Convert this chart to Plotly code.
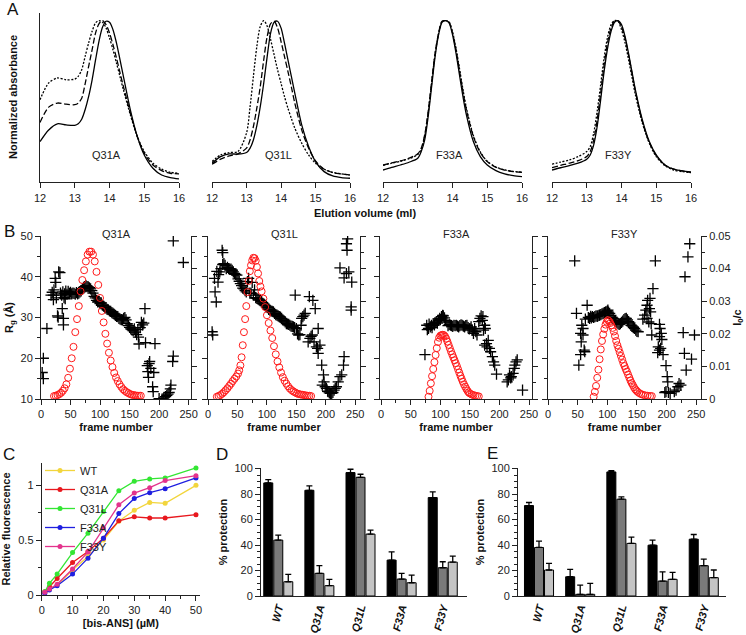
import plotly.graph_objects as go

W, H = 746, 635
FONT = "Liberation Sans, Arial, sans-serif"
INK = "#222222"

# ---------------- Panel A: SEC elution profiles ----------------
elution_ml = [12, 12.25, 12.5, 12.75, 13, 13.1, 13.2, 13.3, 13.4, 13.5, 13.6, 13.7, 13.8,
              13.9, 14, 14.1, 14.2, 14.3, 14.4, 14.6, 14.8, 15, 15.25, 15.5, 15.75, 16]
q31a_solid = [0.252, 0.324, 0.362, 0.355, 0.352, 0.362, 0.39, 0.45, 0.531, 0.634, 0.758, 0.875, 0.96,
              0.996, 0.99, 0.944, 0.862, 0.76, 0.655, 0.448, 0.283, 0.169, 0.087, 0.045, 0.029, 0.021]
q31a_dash = [0.37, 0.465, 0.49, 0.483, 0.48, 0.49, 0.52, 0.61, 0.717, 0.82, 0.924, 0.981, 1.0,
             0.975, 0.924, 0.851, 0.769, 0.68, 0.593, 0.428, 0.283, 0.18, 0.107, 0.072, 0.056, 0.052]
q31a_dot = [0.51, 0.614, 0.645, 0.634, 0.638, 0.655, 0.696, 0.78, 0.862, 0.934, 0.986, 1.0, 0.99,
            0.955, 0.893, 0.82, 0.738, 0.655, 0.572, 0.417, 0.283, 0.19, 0.118, 0.081, 0.062, 0.056]
q31l_solid = [0.118, 0.159, 0.176, 0.174, 0.184, 0.21, 0.262, 0.35, 0.469, 0.614, 0.779, 0.924, 0.99,
              0.996, 0.955, 0.862, 0.758, 0.655, 0.552, 0.355, 0.221, 0.128, 0.066, 0.039, 0.029, 0.025]
q31l_dash = [0.112, 0.143, 0.163, 0.176, 0.211, 0.26, 0.345, 0.46, 0.593, 0.758, 0.903, 0.981, 0.996,
             0.955, 0.872, 0.779, 0.686, 0.59, 0.49, 0.324, 0.211, 0.132, 0.081, 0.06, 0.052, 0.045]
q31l_dot = [0.128, 0.169, 0.184, 0.19, 0.304, 0.46, 0.655, 0.841, 0.965, 1.0, 0.965, 0.882, 0.789,
            0.696, 0.614, 0.531, 0.459, 0.395, 0.335, 0.242, 0.169, 0.118, 0.081, 0.062, 0.052, 0.045]
f33a_solid = [0.076, 0.092, 0.107, 0.124, 0.149, 0.19, 0.262, 0.407, 0.593, 0.779, 0.913, 0.99, 1.0,
              0.986, 0.913, 0.8, 0.665, 0.531, 0.417, 0.252, 0.159, 0.107, 0.072, 0.052, 0.041, 0.035]
f33a_dash = [0.107, 0.12, 0.132, 0.149, 0.176, 0.211, 0.293, 0.438, 0.624, 0.8, 0.924, 0.996, 1.0,
             0.99, 0.924, 0.82, 0.692, 0.562, 0.448, 0.283, 0.184, 0.128, 0.093, 0.076, 0.066, 0.062]
f33a_dot = [0.105, 0.118, 0.13, 0.146, 0.172, 0.205, 0.285, 0.43, 0.615, 0.795, 0.92, 0.993, 1.0,
            0.992, 0.93, 0.83, 0.705, 0.575, 0.46, 0.29, 0.188, 0.13, 0.094, 0.077, 0.067, 0.063]
f33y_solid = [0.076, 0.09, 0.103, 0.118, 0.143, 0.169, 0.231, 0.345, 0.51, 0.686, 0.83, 0.934, 0.99,
              1.0, 0.975, 0.903, 0.8, 0.686, 0.572, 0.386, 0.252, 0.169, 0.107, 0.081, 0.07, 0.062]
f33y_dash = [0.091, 0.105, 0.118, 0.134, 0.159, 0.19, 0.262, 0.386, 0.552, 0.727, 0.866, 0.955, 0.998,
             0.998, 0.961, 0.893, 0.789, 0.676, 0.562, 0.376, 0.246, 0.165, 0.107, 0.081, 0.07, 0.062]
f33y_dot = [0.112, 0.125, 0.138, 0.159, 0.19, 0.221, 0.304, 0.438, 0.603, 0.769, 0.899, 0.975, 1.0,
            0.996, 0.944, 0.866, 0.762, 0.651, 0.541, 0.366, 0.242, 0.159, 0.103, 0.076, 0.066, 0.06]

# ---------------- Panel B: SEC-SAXS frames ----------------
q31a_io_frames = [22, 25, 28, 31, 34, 37, 40, 43, 46, 49, 52, 55, 58, 61, 64, 67, 70, 73, 76, 79,
                  82, 85, 88, 91, 94, 97, 100, 103, 106, 109, 112, 115, 118, 121, 124, 127, 130, 133, 136, 139,
                  142, 145, 148, 151, 154, 157, 160, 163, 166, 169]
q31a_io = [0.0009, 0.0010, 0.0012, 0.0015, 0.0019, 0.0025, 0.0033, 0.0045, 0.0065, 0.0093,
           0.0125, 0.016, 0.0205, 0.0245, 0.0285, 0.033, 0.0365, 0.0395, 0.0422, 0.0443,
           0.0452, 0.0452, 0.0443, 0.0422, 0.039, 0.035, 0.031, 0.027, 0.0235, 0.02,
           0.017, 0.0142, 0.0118, 0.0098, 0.008, 0.0066, 0.0055, 0.0045, 0.0037, 0.003,
           0.0025, 0.0021, 0.0018, 0.0015, 0.0013, 0.0012, 0.0011, 0.001, 0.001, 0.001]
q31l_io_frames = [15, 18, 21, 24, 27, 30, 33, 36, 39, 42, 45, 48, 51, 53, 55, 57, 59, 61, 63, 65,
                  67, 69, 71, 73, 75, 77, 79, 81, 83, 85, 87, 89, 91, 94, 97, 100, 103, 106, 109, 112,
                  115, 118, 121, 124, 127, 130, 133, 136, 139, 142, 145, 148, 151, 154, 157, 160, 163, 166, 169, 172,
                  175]
q31l_io = [0.0007, 0.0009, 0.0012, 0.0016, 0.0021, 0.0027, 0.0033, 0.004, 0.0047, 0.0055,
           0.0062, 0.0069, 0.0078, 0.0088, 0.0103, 0.0128, 0.0165, 0.0205, 0.0245, 0.0285,
           0.0328, 0.0362, 0.0392, 0.041, 0.0425, 0.0433, 0.0432, 0.0424, 0.0405, 0.0385,
           0.0362, 0.0345, 0.033, 0.0308, 0.0282, 0.0257, 0.0233, 0.021, 0.0187, 0.0162,
           0.0137, 0.0115, 0.0097, 0.0081, 0.0067, 0.0056, 0.0047, 0.0039, 0.0032, 0.0027,
           0.0023, 0.002, 0.0017, 0.0015, 0.0014, 0.0013, 0.0012, 0.0011, 0.001, 0.001,
           0.0009]
f33a_io_frames = [80, 82, 84, 86, 88, 90, 92, 94, 96, 98, 100, 102, 104, 106, 108, 110, 112, 114, 116, 118,
                  120, 122, 124, 126, 128, 130, 132, 134, 136, 138, 140, 142, 144, 146, 148, 150, 153, 156, 159, 162,
                  165]
f33a_io = [0.0007, 0.0025, 0.0048, 0.007, 0.0092, 0.0113, 0.0135, 0.0156, 0.0175, 0.0188,
           0.0194, 0.0196, 0.0197, 0.0196, 0.0192, 0.0185, 0.0176, 0.0166, 0.0156, 0.0146,
           0.0137, 0.0128, 0.0119, 0.011, 0.0101, 0.0091, 0.0081, 0.0071, 0.0062, 0.0053,
           0.0045, 0.0038, 0.0031, 0.0025, 0.002, 0.0017, 0.0014, 0.0012, 0.001, 0.0009,
           0.0008]
f33y_io_frames = [77, 79, 81, 83, 85, 87, 89, 91, 93, 95, 97, 99, 101, 103, 105, 107, 109, 111, 113, 115,
                  117, 119, 121, 123, 125, 127, 129, 131, 133, 135, 137, 139, 141, 143, 145, 147, 149, 151, 154, 157,
                  160, 164, 168, 172, 175]
f33y_io = [0.0007, 0.0022, 0.004, 0.0065, 0.009, 0.0122, 0.0152, 0.0178, 0.0198, 0.0215,
           0.0228, 0.0237, 0.0242, 0.0239, 0.0233, 0.0226, 0.0218, 0.0207, 0.0193, 0.0178,
           0.0165, 0.0154, 0.0143, 0.0132, 0.0121, 0.011, 0.0101, 0.0092, 0.0084, 0.0075,
           0.0066, 0.0057, 0.0049, 0.0043, 0.0036, 0.003, 0.0026, 0.0022, 0.0018, 0.0015,
           0.0013, 0.0011, 0.001, 0.0009, 0.0009]

# radius per frame, (frame, Rg in Å)
q31a_rg = [(2, 16.5), (4, 15), (4, 20), (10, 27.3), (17, 35.5), (19, 36.2), (21, 34.4), (21, 35.5), (22, 36.8),
           (24, 39.6), (25, 38.6), (26, 34.8), (28, 30.4), (29, 30.1), (30, 41.2), (32, 41.0), (33, 36.0),
           (35, 35.5), (36, 32.2), (37, 36.3), (38, 29.8), (38, 28.2), (39, 34.9), (40, 35.8), (41, 34.6),
           (42, 36.5), (44, 35.7), (46, 36.4), (48, 35.9), (50, 36.2), (52, 35.8), (54, 36.0), (56, 35.9),
           (58, 35.7), (60, 36.1), (62, 35.8), (64, 36.0), (66, 36.3), (68, 36.5), (70, 37.0), (72, 37.4),
           (74, 37.6), (76, 37.8), (78, 37.6), (80, 37.5), (82, 37.3), (84, 37.0), (86, 36.6), (88, 36.0),
           (90, 35.2), (92, 34.8), (94, 34.2), (96, 33.8), (98, 33.9), (100, 33.4), (102, 33.6), (104, 33.0),
           (106, 32.8), (108, 32.5), (110, 32.3), (112, 32.0), (114, 31.9), (116, 31.6), (118, 31.5),
           (120, 31.2), (122, 31.0), (124, 30.8), (126, 30.5), (128, 30.3), (130, 30.2), (132, 29.8),
           (134, 29.6), (136, 29.5), (138, 29.4), (140, 29.8), (142, 30.0), (144, 29.4), (146, 28.5),
           (148, 28.0), (150, 27.6), (152, 27.2), (154, 27.0), (156, 26.8), (158, 27.2), (160, 26.4),
           (162, 25.8), (164, 27.0), (165, 25.2), (166, 23.5), (168, 27.5), (170, 28.8), (172, 28.2),
           (174, 28.6), (176, 32.2), (177, 23.8), (180, 18.2), (181, 16.7), (182, 15.3), (183, 18.7),
           (184, 19.2), (186, 17.5), (189, 13.0), (190, 11.8), (191, 16.5), (193, 23.6), (200, 10.1),
           (205, 10.0), (208, 10.3), (211, 10.6), (213, 10.9), (215, 11.2), (217, 11.6), (219, 12.5),
           (220, 13.4), (223, 19.2), (224, 20.5), (224, 48.8), (241, 43.5)]
q31l_rg = [(7, 26.5), (8, 25.7), (11, 39.6), (12, 36.3), (14, 33.8), (15, 41.3), (17, 38.7), (18, 40.5),
           (20, 41.2), (22, 42.0), (24, 46.5), (25, 45.9), (25, 43.0), (27, 43.2), (29, 42.8), (31, 42.0),
           (33, 42.3), (35, 42.0), (37, 41.8), (39, 41.9), (41, 41.6), (43, 41.2), (45, 40.8), (47, 40.6),
           (49, 40.4), (51, 39.5), (53, 38.9), (55, 38.3), (57, 37.8), (59, 37.2), (61, 37.0), (63, 36.6),
           (65, 36.3), (67, 38.8), (69, 39.6), (71, 36.0), (73, 35.9), (75, 38.6), (77, 35.5), (79, 36.8),
           (81, 34.9), (83, 34.7), (85, 34.5), (87, 34.3), (89, 34.2), (91, 33.9), (93, 33.5), (95, 33.3),
           (97, 32.9), (99, 32.6), (101, 32.4), (103, 32.0), (105, 31.8), (107, 31.6), (109, 31.5),
           (111, 31.4), (113, 31.0), (115, 30.7), (117, 30.6), (119, 30.4), (121, 30.2), (123, 30.1),
           (125, 29.8), (127, 29.4), (129, 29.2), (131, 28.9), (133, 28.5), (135, 28.4), (137, 28.3),
           (139, 28.1), (141, 27.9), (143, 27.8), (145, 27.7), (147, 27.5), (148, 35.5), (150, 27.3),
           (152, 26.0), (154, 25.7), (156, 25.8), (158, 28.1), (159, 29.8), (161, 30.2), (163, 30.6),
           (165, 31.0), (170, 24.0), (172, 35.1), (173, 24.9), (175, 25.4), (177, 25.7), (178, 34.2),
           (180, 24.0), (182, 32.2), (184, 22.8), (186, 22.4), (187, 27.3), (187, 21.2), (190, 23.2),
           (193, 18.3), (194, 13.4), (196, 15.9), (197, 14.2), (199, 13.0), (201, 12.6), (203, 11.9),
           (204, 11.8), (206, 11.5), (208, 11.4), (210, 11.4), (212, 11.6), (214, 12.2), (216, 12.6),
           (218, 13.0), (221, 14.2), (224, 15.5), (227, 15.9), (230, 18.3), (231, 20.4), (224, 42.2),
           (231, 39.7), (235, 40.8), (237, 49.3), (235, 48.1), (236, 46.5), (239, 41.2), (244, 38.7),
           (243, 31.8), (243, 32.6)]
f33a_rg = [(74, 20.9), (77, 28.1), (78, 27.0), (80, 27.3), (81, 28.4), (83, 27.7), (85, 28.1), (86, 27.5),
           (88, 28.5), (90, 28.2), (91, 28.7), (93, 28.9), (95, 28.6), (97, 29.3), (99, 29.8), (100, 29.5),
           (102, 30.2), (104, 30.5), (105, 30.4), (107, 29.9), (109, 29.3), (111, 28.9), (113, 28.0),
           (115, 28.3), (117, 28.1), (119, 28.0), (121, 27.8), (123, 28.1), (125, 28.0), (127, 28.1),
           (129, 27.9), (131, 27.7), (133, 28.0), (135, 28.2), (137, 28.1), (139, 27.9), (141, 27.7),
           (143, 28.0), (145, 28.1), (147, 27.5), (149, 27.2), (150, 27.3), (152, 27.7), (154, 26.9),
           (156, 26.1), (158, 27.3), (160, 26.5), (162, 25.7), (165, 29.0), (167, 29.8), (169, 30.4),
           (171, 29.3), (172, 30.2), (173, 26.9), (175, 28.1), (175, 23.2), (176, 27.3), (178, 23.6),
           (179, 22.8), (181, 24.4), (183, 22.4), (185, 21.6), (188, 20.4), (190, 19.1), (192, 18.3),
           (195, 16.1), (213, 14.2), (215, 14.7), (217, 15.9), (219, 15.2), (220, 15.5), (223, 16.3),
           (225, 17.5), (226, 18.3), (228, 19.1), (230, 19.6), (239, 12.2)]
f33y_rg = [(45, 43.9), (48, 31.0), (52, 18.3), (55, 20.9), (55, 26.1), (56, 24.0), (57, 28.1), (59, 27.3),
           (59, 25.7), (61, 22.0), (62, 21.6), (63, 29.6), (66, 33.0), (68, 30.0), (70, 29.8), (72, 30.3),
           (73, 29.9), (75, 30.2), (77, 30.0), (79, 30.2), (81, 30.4), (83, 30.3), (84, 30.4), (86, 30.5),
           (87, 30.6), (89, 30.7), (91, 30.9), (93, 31.0), (95, 31.2), (97, 31.3), (98, 31.4), (100, 31.6),
           (101, 31.8), (102, 31.3), (104, 31.0), (106, 30.5), (108, 30.0), (110, 29.8), (112, 29.3),
           (114, 29.0), (116, 28.8), (118, 28.5), (120, 28.3), (122, 28.5), (124, 28.8), (126, 29.1),
           (128, 29.5), (130, 29.7), (132, 29.8), (134, 29.4), (136, 29.0), (138, 28.7), (140, 28.1),
           (142, 27.9), (144, 27.5), (146, 27.3), (148, 26.9), (150, 26.6), (152, 26.5), (160, 29.6),
           (163, 30.6), (165, 31.8), (167, 33.0), (168, 34.2), (167, 29.8), (170, 28.9), (171, 32.2),
           (172, 34.7), (173, 31.4), (174, 28.5), (175, 25.7), (177, 37.1), (181, 43.9), (186, 22.8),
           (185, 21.4), (188, 22.0), (188, 25.3), (188, 28.3), (189, 27.3), (190, 22.4), (191, 26.1),
           (192, 24.6), (194, 20.9), (197, 11.6), (199, 11.8), (199, 18.2), (201, 15.5), (202, 14.2),
           (203, 11.6), (206, 11.4), (213, 11.8), (216, 12.2), (219, 13.0), (221, 13.8), (224, 13.4),
           (228, 26.3), (230, 21.2), (231, 40.0), (233, 17.1), (236, 44.9), (239, 48.1), (242, 19.8),
           (247, 25.7)]

# ---------------- Panel C: bis-ANS titration ----------------
bisans_um = [1, 2.5, 5, 10, 15, 20, 25, 30, 35, 40, 50]
fluo_wt = [0.024, 0.055, 0.09, 0.228, 0.35, 0.50, 0.67, 0.77, 0.842, 0.833, 0.997]
fluo_q31a = [0.03, 0.076, 0.15, 0.295, 0.395, 0.517, 0.675, 0.711, 0.70, 0.70, 0.73]
fluo_q31l = [0.03, 0.106, 0.19, 0.386, 0.562, 0.76, 0.948, 1.033, 1.055, 1.064, 1.155]
fluo_f33a = [0.015, 0.046, 0.085, 0.19, 0.335, 0.517, 0.74, 0.878, 0.93, 0.967, 1.064]
fluo_f33y = [0.024, 0.055, 0.097, 0.237, 0.39, 0.608, 0.82, 0.927, 0.976, 1.04, 1.085]

# ---------------- Panels D, E: % protection ----------------
variants = ["WT", "Q31A", "Q31L", "F33A", "F33Y"]
d_black = [88.8, 83.0, 96.9, 28.2, 77.3]
d_black_err = [2.6, 3.4, 2.6, 6.5, 4.4]
d_gray = [43.9, 17.8, 93.2, 13.3, 22.2]
d_gray_err = [3.9, 6.0, 2.4, 4.5, 4.7]
d_light = [11.2, 8.1, 48.6, 10.4, 26.6]
d_light_err = [5.8, 5.0, 3.1, 6.0, 4.7]
e_black = [71.0, 15.1, 97.4, 39.9, 44.6]
e_black_err = [2.4, 5.8, 1.0, 4.0, 3.7]
e_gray = [38.1, 1.3, 76.0, 11.7, 23.8]
e_gray_err = [5.0, 7.3, 1.8, 7.3, 5.2]
e_light = [20.4, 1.3, 41.3, 13.1, 14.4]
e_light_err = [5.2, 8.6, 4.9, 5.4, 6.0]


def xd(a, b):
    return [a / W, b / W]


def yd(top, bottom):
    return [1 - bottom / H, 1 - top / H]


def ax(**kw):
    base = dict(showgrid=False, zeroline=False, showline=True, linecolor=INK, linewidth=1,
                ticks="outside", tickcolor=INK, tickwidth=1, ticklen=5, automargin=False,
                tickfont=dict(size=11, color=INK, family=FONT))
    base.update(kw)
    return base


def minor(dt):
    return dict(ticks="outside", ticklen=3, tickcolor=INK, tickwidth=1, dtick=dt, showgrid=False)


def paper_text(text, px, py, font, angle=0):
    return dict(x=px / W, y=1 - py / H, xref="paper", yref="paper", text=text, showarrow=False,
                xanchor="center", yanchor="middle", textangle=angle, font=font)


BOLD = dict(size=11, color="#111111", family=FONT, weight="bold")
PLAIN = dict(size=11, color=INK, family=FONT)

fig = go.Figure()
layout = {}
annotations = []

# ---- A ----
sec = [("Q31A", q31a_solid, q31a_dash, q31a_dot, (40, 179)),
       ("Q31L", q31l_solid, q31l_dash, q31l_dot, (212, 350)),
       ("F33A", f33a_solid, f33a_dash, f33a_dot, (383, 522)),
       ("F33Y", f33y_solid, f33y_dash, f33y_dot, (552, 691))]
dashes = ["solid", "6px,2.5px", "2px,1.6px"]
for i, (name, s, d, o, (xa, xb)) in enumerate(sec):
    n = i + 1
    xs = "x" if n == 1 else f"x{n}"
    ys = "y" if n == 1 else f"y{n}"
    for curve, dash in zip((o, d, s), (dashes[2], dashes[1], dashes[0])):
        fig.add_trace(go.Scatter(x=elution_ml, y=curve, mode="lines", xaxis=xs, yaxis=ys,
                                 line=dict(color="black", width=1.3, dash=dash, shape="spline", smoothing=0.8),
                                 showlegend=False, hoverinfo="skip"))
    xkey = "xaxis" if n == 1 else f"xaxis{n}"
    ykey = "yaxis" if n == 1 else f"yaxis{n}"
    layout[xkey] = ax(domain=xd(xa, xb), range=[12, 16], anchor=ys, tickvals=[12, 13, 14, 15, 16])
    layout[ykey] = ax(domain=yd(13, 182.3), range=[0, 1.047], anchor=xs, ticks="",
                      showticklabels=False, showline=(n == 1))
    annotations.append(dict(x=13.92, y=0.17, xref=xs, yref=ys, text=name, showarrow=False,
                            xanchor="center", yanchor="middle", font=PLAIN))

annotations.append(paper_text("Elution volume (ml)", 365, 213, BOLD))
annotations.append(paper_text("Normalized absorbance", 13, 97, BOLD, -90))

# ---- B ----
saxs = [("Q31A", q31a_io_frames, q31a_io, q31a_rg, (41, 191), [0, 254]),
        ("Q31L", q31l_io_frames, q31l_io, q31l_rg, (208, 360), [0, 258]),
        ("F33A", f33a_io_frames, f33a_io, f33a_rg, (380, 532), [-2, 255]),
        ("F33Y", f33y_io_frames, f33y_io, f33y_rg, (548, 701), [0, 258])]
for i, (name, fr, io, rg, (xa, xb), xr) in enumerate(saxs):
    n = 5 + i
    nr = 9 + i
    fig.add_trace(go.Scatter(x=[p[0] for p in rg], y=[p[1] for p in rg], mode="markers",
                             xaxis=f"x{n}", yaxis=f"y{n}", showlegend=False, hoverinfo="skip",
                             marker=dict(symbol="cross-thin", size=8, line=dict(color="black", width=1.3))))
    fig.add_trace(go.Scatter(x=fr, y=io, mode="markers", xaxis=f"x{n}", yaxis=f"y{nr}",
                             showlegend=False, hoverinfo="skip",
                             marker=dict(symbol="circle-open", size=7, color="#ff1a1a",
                                         line=dict(color="#ff1a1a", width=1))))
    layout[f"xaxis{n}"] = ax(domain=xd(xa, xb), range=xr, anchor=f"y{n}", tickvals=[0, 50, 100, 150, 200, 250],
                             minor=dict(ticks="outside", ticklen=3, tickcolor=INK,
                                        tickvals=[25, 75, 125, 175, 225], showgrid=False),
                             title=dict(text="frame number", font=BOLD, standoff=4))
    yl = ax(domain=yd(236, 399), range=[10, 50], anchor=f"x{n}", tickvals=[10, 20, 30, 40, 50],
            minor=dict(ticks="outside", ticklen=3, tickcolor=INK, tickvals=[15, 25, 35, 45], showgrid=False),
            showticklabels=(i == 0))
    if i == 0:
        yl["title"] = dict(text="R<sub>g</sub> (Å)", font=BOLD, standoff=4)
    layout[f"yaxis{n}"] = yl
    yr = ax(range=[0, 0.05], anchor=f"x{n}", overlaying=f"y{n}", side="right",
            tickvals=[0, 0.01, 0.02, 0.03, 0.04, 0.05],
            ticktext=["0", "0.01", "0.02", "0.03", "0.04", "0.05"],
            minor=dict(ticks="outside", ticklen=3, tickcolor=INK,
                       tickvals=[0.005, 0.015, 0.025, 0.035, 0.045], showgrid=False),
            showticklabels=(i == 3))
    if i == 3:
        yr["title"] = dict(text="I<sub>0</sub>/c", font=BOLD, standoff=3)
    layout[f"yaxis{nr}"] = yr
    annotations.append(paper_text(name, (xa + xb) / 2, 234, PLAIN))

# ---- C ----
fluo = [("WT", fluo_wt, "#f2d53c"), ("Q31A", fluo_q31a, "#e8181e"), ("Q31L", fluo_q31l, "#33e633"),
        ("F33A", fluo_f33a, "#1f1fe0"), ("F33Y", fluo_f33y, "#e3338c")]
for name, vals, col in fluo:
    fig.add_trace(go.Scatter(x=bisans_um, y=vals, mode="lines+markers", name=name, xaxis="x9", yaxis="y13",
                             line=dict(color=col, width=1.3), marker=dict(color=col, size=5)))
layout["xaxis9"] = ax(domain=xd(41.7, 200), range=[0, 51.3], anchor="y13", tickvals=[0, 10, 20, 30, 40, 50],
                      minor=minor(5), title=dict(text="[bis-ANS] (µM)", font=BOLD, standoff=4))
layout["yaxis13"] = ax(domain=yd(463, 595), range=[0, 1.2], anchor="x9", tickvals=[0, 0.5, 1],
                       ticktext=["0", "0.5", "1"], minor=dict(ticks="outside", ticklen=3, tickcolor=INK,
                                                              tickvals=[0.25, 0.75], showgrid=False),
                       title=dict(text="Relative fluorescence", font=BOLD, standoff=6))

# ---- D, E ----
bar_sets = [("x10", "y14", (261, 467), [-0.42, 4.59],
             [(d_black, d_black_err, "#000000"), (d_gray, d_gray_err, "#7a7a7a"), (d_light, d_light_err, "#c4c4c4")]),
            ("x11", "y15", (518, 726), [-0.51, 4.54],
             [(e_black, e_black_err, "#000000"), (e_gray, e_gray_err, "#7a7a7a"), (e_light, e_light_err, "#c4c4c4")])]
for xs, ys, (xa, xb), xr, sets in bar_sets:
    for vals, err, col in sets:
        fig.add_trace(go.Bar(x=variants, y=vals, xaxis=xs, yaxis=ys, showlegend=False,
                             marker=dict(color=col, line=dict(color="black", width=1)),
                             error_y=dict(type="data", symmetric=False, array=err, arrayminus=[0] * len(err),
                                          color="black", thickness=1.3, width=3)))
    layout["xaxis" + xs[1:]] = ax(domain=xd(xa, xb), range=xr, anchor=ys, type="category", ticks="",
                                  tickangle=-75,
                                  tickfont=dict(size=11, color="#111111", family=FONT, weight="bold", style="italic"))
    layout["yaxis" + ys[1:]] = ax(domain=yd(468, 596), range=[0, 100.5], anchor=xs, tickvals=[0, 20, 40, 60, 80, 100],
                                  minor=minor(5), title=dict(text="% protection", font=BOLD, standoff=4))

# panel letters
LETTER = dict(size=17, color="#111111", family=FONT)
for letter, px, py in [("A", 13, 10), ("B", 9, 231), ("C", 9, 454), ("D", 222, 454), ("E", 492, 453)]:
    annotations.append(paper_text(letter, px, py, LETTER))

fig.update_layout(template="none")
fig.update_layout(**layout)
fig.update_layout(width=W, height=H, autosize=False, margin=dict(l=0, r=0, t=0, b=0, pad=0),
                  paper_bgcolor="white", plot_bgcolor="white",
                  font=dict(family=FONT, size=11, color=INK),
                  barmode="group", bargap=0.27, bargroupgap=0.1,
                  annotations=annotations,
                  legend=dict(x=40 / W, y=1 - 456 / H, xanchor="left", yanchor="top",
                              bgcolor="rgba(0,0,0,0)", font=dict(size=11, color=INK, family=FONT),
                              itemwidth=30, tracegroupgap=0))

fig.write_html("out.html", config={"displayModeBar": False},
               post_script="document.body.style.margin='0';document.body.style.padding='0';"
                           "document.documentElement.style.overflow='hidden';")
